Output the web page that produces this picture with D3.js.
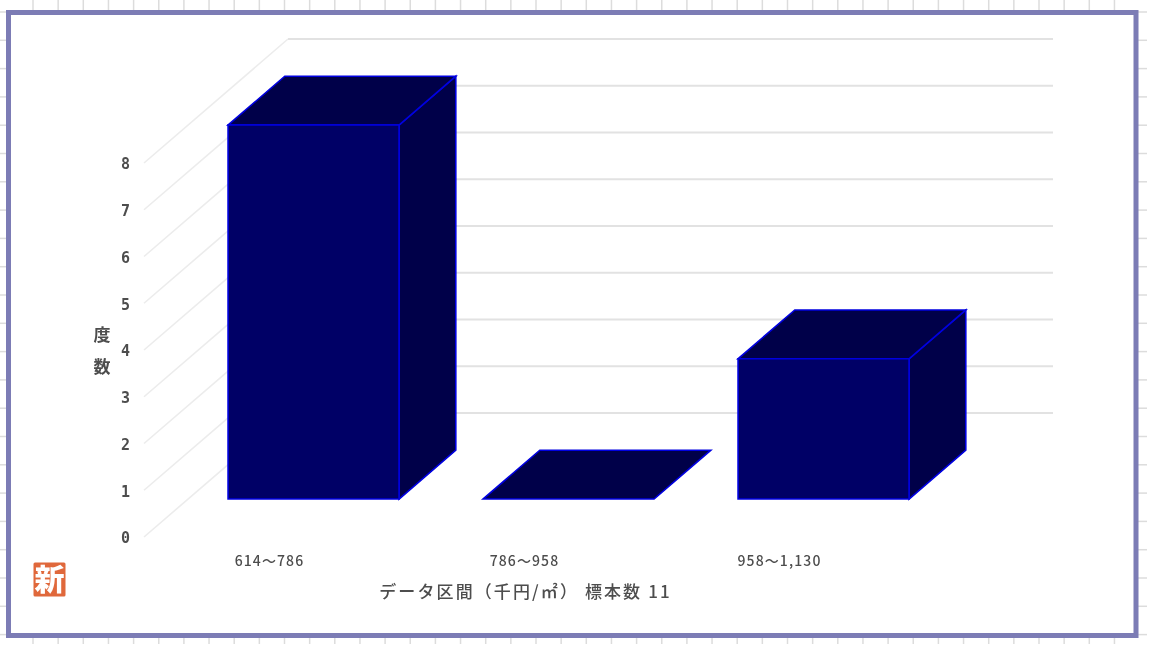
<!DOCTYPE html>
<html>
<head>
<meta charset="utf-8"/>
<script src="https://d3js.org/d3.v7.min.js"></script>
<style>
  body { margin: 0; background: #fff; }
  text { font-family: "Noto Sans CJK JP", sans-serif; fill: #4d4d4d; }
</style>
</head>
<body>
<script>
// data
var categories = ["614～786", "786～958", "958～1,130"];
var counts = [8, 0, 3];
var yTicks = [0, 1, 2, 3, 4, 5, 6, 7, 8];
var xTitle = "データ区間（千円/㎡） 標本数 11";
var yTitle = ["度", "数"];

// globals
var width = 1152, height = 648;
var floorX0 = 144, floorX1 = 909, floorY = 537, topY = 163;
var depthX = 144, depthY = 124;   // how far the back wall sits from the front edge
var barFront = 0.306, barBack = 0.70; // depth range of the bars

var x = d3.scaleBand().domain(categories).range([floorX0, floorX1]);
var y = d3.scaleLinear().domain([0, 8]).range([floorY, topY]);

// project a point: px on the floor, value v, depth t (0 front, 1 back)
function pt(px, v, t) {
  return [px + depthX * t, y(v) - depthY * t];
}
function poly(points) {
  return points.map(function(p) { return p.join(","); }).join(" ");
}

var svg = d3.select("body").append("svg")
  .attr("width", width).attr("height", height)
  .style("display", "block");

var blur = svg.append("defs").append("filter").attr("id", "soft");
blur.append("feGaussianBlur").attr("stdDeviation", 0.5);

var root = svg.append("g").attr("filter", "url(#soft)");

// the sheet grid showing round the frame
var tickColor = "#dcdcdc";
root.append("g").selectAll("line")
  .data(d3.range(33, 1137, 25.15))
  .enter().append("line")
  .attr("x1", function(d) { return d; }).attr("x2", function(d) { return d; })
  .attr("y1", 0).attr("y2", 12).attr("stroke", tickColor).attr("stroke-width", 1.5);
root.append("g").selectAll("line")
  .data(d3.range(33, 1137, 25.15))
  .enter().append("line")
  .attr("x1", function(d) { return d; }).attr("x2", function(d) { return d; })
  .attr("y1", 636).attr("y2", 644).attr("stroke", tickColor).attr("stroke-width", 1.5);
root.append("g").selectAll("line")
  .data(d3.range(12, 636, 28.3))
  .enter().append("line")
  .attr("x1", 0).attr("x2", 7)
  .attr("y1", function(d) { return d; }).attr("y2", function(d) { return d; })
  .attr("stroke", tickColor).attr("stroke-width", 1.5);
root.append("g").selectAll("line")
  .data(d3.range(12, 636, 28.3))
  .enter().append("line")
  .attr("x1", 1137).attr("x2", 1147)
  .attr("y1", function(d) { return d; }).attr("y2", function(d) { return d; })
  .attr("stroke", tickColor).attr("stroke-width", 1.5);

// frame
root.append("rect")
  .attr("x", 8.5).attr("y", 12.5).attr("width", 1127.5).attr("height", 623)
  .attr("fill", "#fff").attr("stroke", "#7b7bb5").attr("stroke-width", 5);

// gridlines: side wall (fainter) then back wall
var grid = root.append("g");
yTicks.forEach(function(v) {
  var a = pt(floorX0, v, 0), b = pt(floorX0, v, 1), c = pt(floorX1, v, 1);
  grid.append("line")
    .attr("x1", a[0]).attr("y1", a[1]).attr("x2", b[0]).attr("y2", b[1])
    .attr("stroke", "#ececec").attr("stroke-width", 1.6);
  grid.append("line")
    .attr("x1", b[0]).attr("y1", b[1]).attr("x2", c[0]).attr("y2", c[1])
    .attr("stroke", "#e2e2e2").attr("stroke-width", 1.8);
});

// bars
var bars = root.append("g").selectAll("g")
  .data(categories)
  .enter().append("g");

bars.each(function(cat, i) {
  var g = d3.select(this);
  var v = counts[i];
  var left = x(cat) + 40, right = left + 171;
  var faces = [
    // side
    { fill: "#000048", pts: [pt(right, 0, barFront), pt(right, 0, barBack), pt(right, v, barBack), pt(right, v, barFront)] },
    // top
    { fill: "#000048", pts: [pt(left, v, barFront), pt(right, v, barFront), pt(right, v, barBack), pt(left, v, barBack)] },
    // front
    { fill: "#000066", pts: [pt(left, 0, barFront), pt(right, 0, barFront), pt(right, v, barFront), pt(left, v, barFront)] }
  ];
  if (v === 0) faces = faces.slice(1, 2);
  faces.forEach(function(f) {
    g.append("polygon")
      .attr("points", poly(f.pts))
      .attr("fill", f.fill)
      .attr("stroke", "#0000e0").attr("stroke-width", 1.6);
  });
});

// y axis labels
var yAxis = d3.axisLeft(y).tickValues(yTicks).tickSize(0).tickPadding(0);
var yG = root.append("g").attr("transform", "translate(130,1)").call(yAxis);
yG.select(".domain").remove();
yG.selectAll("text").style("font-size", "15px").style("font-weight", 700).style("font-family", "'DejaVu Sans Mono'");

// x axis labels
var xAxis = d3.axisBottom(x).tickSize(0).tickPadding(0);
var xG = root.append("g").attr("transform", "translate(-2,556)").call(xAxis);
xG.select(".domain").remove();
xG.selectAll("text").style("font-size", "14px").style("font-weight", 500).style("letter-spacing", "1.1px");

// axis titles
root.append("text")
  .attr("x", 525.5).attr("y", 598)
  .attr("text-anchor", "middle")
  .style("font-size", "17px").style("font-weight", 500).style("letter-spacing", "2.1px")
  .text(xTitle);

root.append("g").selectAll("text")
  .data(yTitle)
  .enter().append("text")
  .attr("x", 102).attr("y", function(d, i) { return 341 + i * 32; })
  .attr("text-anchor", "middle")
  .style("font-size", "17px").style("font-weight", 700)
  .text(function(d) { return d; });

// 新 badge
root.append("rect")
  .attr("x", 33.5).attr("y", 562.5).attr("width", 32).attr("height", 34)
  .attr("rx", 1.5).attr("fill", "#e0683a");
root.append("text")
  .attr("x", 49.5).attr("y", 590)
  .attr("text-anchor", "middle")
  .style("font-size", "30px").style("font-weight", 900).style("fill", "#fff")
  .text("新");
</script>
</body>
</html>
